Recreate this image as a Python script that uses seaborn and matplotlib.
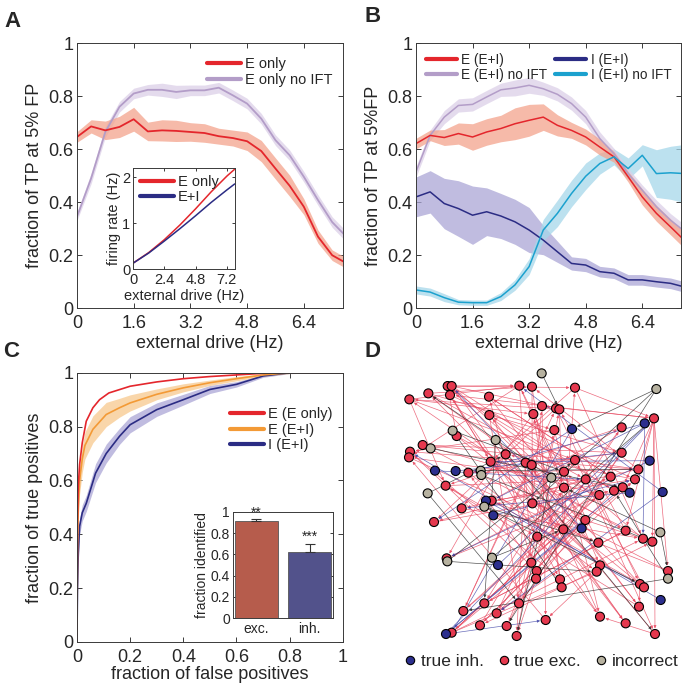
import numpy as np
import pandas as pd
import matplotlib
matplotlib.use("Agg")
import matplotlib.pyplot as plt
from matplotlib.lines import Line2D
import seaborn as sns

# ---------------- data: panels A & B (detection vs external drive) ----------------
drive = [0.0, 0.4, 0.8, 1.2, 1.6, 2.0, 2.4, 2.8, 3.2, 3.6,
         4.0, 4.4, 4.8, 5.2, 5.6, 6.0, 6.4, 6.8, 7.2, 7.6]
drive_ticks = [0, 1.6, 3.2, 4.8, 6.4]
drive_ticklabels = ["0", "1.6", "3.2", "4.8", "6.4"]

a_e_only = [0.646, 0.686, 0.671, 0.684, 0.713, 0.667, 0.671, 0.669, 0.665, 0.661,
            0.649, 0.642, 0.630, 0.593, 0.527, 0.462, 0.383, 0.270, 0.200, 0.170]
a_e_only_sd = [0.02, 0.025, 0.035, 0.04, 0.045, 0.035, 0.04, 0.04, 0.035, 0.035,
               0.03, 0.03, 0.035, 0.04, 0.04, 0.04, 0.03, 0.025, 0.02, 0.02]
a_e_noift = [0.345, 0.490, 0.665, 0.760, 0.810, 0.824, 0.824, 0.816, 0.822, 0.822,
             0.832, 0.803, 0.772, 0.715, 0.634, 0.577, 0.496, 0.408, 0.325, 0.270]
a_e_noift_sd = [0.015, 0.02, 0.02, 0.02, 0.02, 0.02, 0.025, 0.025, 0.02, 0.02,
                0.02, 0.02, 0.02, 0.02, 0.02, 0.02, 0.02, 0.02, 0.02, 0.02]

inset_drive = [0, 1.2, 2.4, 3.6, 4.8, 6.0, 7.2, 7.8]
rate_e_only = [0.13, 0.36, 0.64, 0.96, 1.31, 1.68, 2.02, 2.17]
rate_e_i = [0.13, 0.35, 0.61, 0.88, 1.16, 1.45, 1.72, 1.85]

b_e = [0.621, 0.652, 0.644, 0.659, 0.646, 0.665, 0.678, 0.696, 0.709, 0.721,
       0.690, 0.671, 0.646, 0.608, 0.571, 0.496, 0.420, 0.358, 0.307, 0.255]
b_e_sd = [0.02, 0.02, 0.03, 0.04, 0.05, 0.05, 0.05, 0.06, 0.06, 0.05,
          0.04, 0.03, 0.03, 0.03, 0.02, 0.02, 0.03, 0.03, 0.03, 0.03]
b_e_noift = [0.514, 0.652, 0.721, 0.765, 0.769, 0.797, 0.824, 0.831, 0.841, 0.828,
             0.807, 0.772, 0.721, 0.640, 0.583, 0.508, 0.445, 0.383, 0.332, 0.290]
b_e_noift_sd = [0.02, 0.02, 0.025, 0.025, 0.025, 0.025, 0.025, 0.03, 0.03, 0.025,
                0.025, 0.025, 0.025, 0.025, 0.02, 0.02, 0.02, 0.025, 0.025, 0.025]
b_i = [0.420, 0.439, 0.395, 0.376, 0.351, 0.364, 0.348, 0.326, 0.295, 0.257,
       0.213, 0.169, 0.163, 0.138, 0.132, 0.107, 0.107, 0.100, 0.094, 0.080]
b_i_sd = [0.075, 0.08, 0.095, 0.105, 0.11, 0.09, 0.085, 0.085, 0.085, 0.055,
          0.04, 0.025, 0.025, 0.02, 0.02, 0.02, 0.02, 0.02, 0.02, 0.02]
b_i_noift = [0.069, 0.061, 0.040, 0.023, 0.021, 0.021, 0.044, 0.088, 0.157, 0.295,
             0.358, 0.433, 0.498, 0.546, 0.571, 0.527, 0.577, 0.508, 0.511, 0.508]
b_i_noift_sd = [0.015, 0.015, 0.015, 0.01, 0.01, 0.01, 0.015, 0.02, 0.03, 0.04,
                0.05, 0.05, 0.05, 0.04, 0.03, 0.04, 0.04, 0.09, 0.10, 0.11]

# ---------------- data: panel C (ROC curves) ----------------
fpr_e_only = [0, 0.002, 0.005, 0.01, 0.02, 0.035, 0.06, 0.085, 0.12, 0.2, 0.3, 0.4, 0.5, 0.6, 0.7, 0.8, 1.0]
tpr_e_only = [0, 0.45, 0.58, 0.66, 0.74, 0.82, 0.87, 0.90, 0.925, 0.95, 0.966, 0.978, 0.986, 0.992, 0.998, 1.0, 1.0]
fpr_e_ei = [0, 0.002, 0.005, 0.01, 0.02, 0.03, 0.06, 0.11, 0.16, 0.2, 0.3, 0.4, 0.5, 0.6, 0.7, 0.8, 1.0]
tpr_e_ei = [0, 0.35, 0.50, 0.60, 0.68, 0.73, 0.79, 0.845, 0.87, 0.888, 0.92, 0.944, 0.963, 0.978, 0.992, 1.0, 1.0]
tpr_e_ei_sd = [0, 0.03, 0.04, 0.05, 0.05, 0.05, 0.05, 0.045, 0.035, 0.03, 0.02, 0.015, 0.01, 0.008, 0.005, 0.003, 0]
fpr_i_ei = [0, 0.002, 0.005, 0.01, 0.02, 0.035, 0.07, 0.11, 0.16, 0.2, 0.3, 0.4, 0.5, 0.6, 0.7, 0.8, 1.0]
tpr_i_ei = [0, 0.20, 0.33, 0.43, 0.48, 0.515, 0.627, 0.70, 0.764, 0.807, 0.863, 0.90, 0.938, 0.957, 0.988, 1.0, 1.0]
tpr_i_ei_sd = [0, 0.02, 0.03, 0.03, 0.03, 0.03, 0.035, 0.035, 0.03, 0.03, 0.025, 0.02, 0.015, 0.01, 0.005, 0.003, 0]

cell_type = ["exc.", "inh."]
frac_identified = [0.91, 0.62]
frac_err = [0.02, 0.08]
frac_stars = ["**", "***"]

# ---------------- data: panel D (inferred network) ----------------
exc_xy = [(208, 178), (265, 160), (323, 138), (335, 138), (330, 165), (538, 137), (576, 140),
          (705, 143), (447, 170), (448, 225), (580, 222), (606, 198), (648, 205), (658, 208),
          (643, 270), (350, 288), (248, 315), (210, 335), (207, 352), (497, 343), (452, 365),
          (557, 368), (575, 375), (705, 360), (845, 338), (845, 262), (942, 235), (385, 398),
          (672, 395), (317, 437), (672, 443), (737, 418), (812, 410), (885, 418), (895, 388),
          (848, 442), (822, 452), (778, 465), (455, 482), (365, 505), (577, 490), (736, 540),
          (282, 546), (670, 568), (592, 590), (857, 572), (909, 596), (937, 605), (775, 608),
          (320, 655), (574, 668), (590, 693), (588, 716), (660, 718), (665, 742), (780, 676),
          (770, 695), (900, 732), (912, 742), (984, 693), (370, 813), (433, 790), (537, 790),
          (470, 820), (617, 840), (780, 830), (857, 850), (897, 800), (420, 856), (500, 858),
          (335, 878), (530, 888), (945, 882)]
inh_xy = [(696, 267), (914, 250), (929, 362), (285, 392), (347, 393), (438, 482), (460, 526),
          (869, 458), (968, 456), (725, 565), (474, 675), (962, 780), (318, 882)]
inc_xy = [(605, 100), (949, 147), (338, 272), (272, 325), (467, 300), (422, 392), (424, 405),
          (634, 413), (263, 460), (433, 500), (456, 653), (322, 664), (961, 577), (984, 716)]

edges = [
    ("E0", "E5"), ("E0", "E23"), ("E0", "E29"), ("E0", "E10"), ("E1", "E6"), ("E1", "E14"),
    ("E1", "E31"), ("E2", "E7"), ("E2", "E22"), ("E2", "E15"), ("E3", "E5"), ("E3", "E12"),
    ("E3", "E36"), ("E4", "E20"), ("E4", "E44"), ("E4", "E33"), ("E5", "E30"), ("E5", "E50"),
    ("E5", "E18"), ("E6", "E40"), ("E6", "E54"), ("E7", "E26"), ("E7", "E46"), ("E7", "E20"),
    ("E8", "E41"), ("E8", "E32"), ("E9", "E24"), ("E9", "E62"), ("E10", "E55"), ("E10", "E39"),
    ("E11", "E26"), ("E11", "E64"), ("E12", "E42"), ("E12", "E57"), ("E13", "E0"), ("E13", "E43"),
    ("E14", "E65"), ("E14", "E17"), ("E15", "E45"), ("E15", "E58"), ("E16", "E24"), ("E16", "E37"),
    ("E17", "E34"), ("E17", "E53"), ("E18", "E48"), ("E18", "E35"), ("E19", "E66"), ("E19", "E49"),
    ("E20", "E47"), ("E21", "E71"), ("E21", "E1"), ("E22", "E67"), ("E22", "E60"), ("E23", "E61"),
    ("E23", "E16"), ("E24", "E27"), ("E24", "E52"), ("E25", "E29"), ("E25", "E44"), ("E26", "E4"),
    ("E26", "E35"), ("E26", "E45"), ("E26", "E47"), ("E26", "E59"), ("E26", "E33"), ("E26", "E72"),
    ("E27", "E34"), ("E27", "E56"), ("E28", "E63"), ("E28", "E2"), ("E29", "E31"), ("E29", "E44"),
    ("E30", "E69"), ("E30", "E3"), ("E31", "E42"), ("E31", "E72"), ("E32", "E60"), ("E32", "E8"),
    ("E33", "E38"), ("E33", "E19"), ("E34", "E39"), ("E34", "E6"), ("E35", "E49"), ("E36", "E68"),
    ("E36", "E9"), ("E37", "E21"), ("E38", "E57"), ("E38", "E25"), ("E39", "E46"), ("E40", "E66"),
    ("E40", "E11"), ("E41", "E62"), ("E41", "E0"), ("E42", "E36"), ("E43", "E70"), ("E43", "E7"),
    ("E44", "E65"), ("E45", "E61"), ("E45", "E13"), ("E46", "E28"), ("E47", "E40"), ("E48", "E63"),
    ("E48", "E5"), ("E49", "E32"), ("E50", "E27"), ("E50", "E8"), ("E51", "E24"), ("E51", "E17"),
    ("E52", "E71"), ("E53", "E10"), ("E54", "E68"), ("E55", "E20"), ("E55", "E1"), ("E56", "E64"),
    ("E57", "E21"), ("E58", "E23"), ("E59", "E16"), ("E59", "E38"), ("E60", "E37"), ("E60", "E12"),
    ("E61", "E45"), ("E62", "E14"), ("E63", "E25"), ("E63", "E33"), ("E64", "E18"), ("E65", "E22"),
    ("E65", "E4"), ("E66", "E3"), ("E67", "E9"), ("E67", "E29"), ("E68", "E41"), ("E68", "E30"),
    ("E69", "E31"), ("E70", "E43"), ("E70", "E46"), ("E70", "E33"), ("E70", "E37"), ("E70", "E56"),
    ("E71", "E13"), ("E72", "E19"), ("E72", "E65"), ("E57", "E67"), ("E54", "E47"), ("E52", "E50"),
    ("E44", "E53"), ("E40", "E22"), ("E23", "E34"),
    ("I0", "E42"), ("I0", "E70"), ("I1", "E38"), ("I1", "E46"), ("I1", "E27"), ("I2", "E49"),
    ("I2", "E20"), ("I3", "E31"), ("I4", "E24"), ("I5", "E58"), ("I6", "E33"), ("I7", "E39"),
    ("I8", "E5"), ("I8", "E63"), ("I9", "E3"), ("I10", "E26"), ("I11", "E17"), ("I12", "E26"),
    ("I12", "E41"), ("I12", "E35"), ("I12", "E64"),
    ("G0", "E13"), ("G1", "I0"), ("G1", "E40"), ("G2", "E28"), ("G3", "E35"), ("G4", "E61"),
    ("G5", "E34"), ("G6", "E47"), ("G7", "E71"), ("G8", "E19"), ("G9", "E57"), ("G10", "E43"),
    ("G11", "E23"), ("G12", "E59"), ("G13", "E36"), ("G2", "E54"), ("G4", "E72"), ("G8", "E62"),
    ("G11", "E56"), ("G12", "E30"), ("G1", "E69"), ("G7", "E1"), ("G9", "E48"), ("G10", "E26"),
    ("G13", "E60"),
]

# ---------------- colours ----------------
RED = "#E4262C"
RED_BAND = "#F4A38C"
LAV = "#B39DC8"
LAV_BAND = "#DCD0E8"
NAVY = "#2B2C84"
NAVY_BAND = "#ABA6D6"
CYAN = "#1BA1CE"
CYAN_BAND = "#A6D7EA"
ORANGE = "#F39A36"
ORANGE_BAND = "#F8C98E"
AXC = "#3A3A3A"

sns.set_style("ticks")
plt.rcParams["font.family"] = ["Liberation Sans", "DejaVu Sans"]
plt.rcParams["xtick.direction"] = "in"
plt.rcParams["ytick.direction"] = "in"
plt.rcParams["xtick.top"] = True
plt.rcParams["ytick.right"] = True


def style_axes(ax, size=13, length=3.5, xpad=5, ypad=2.5):
    for s in ax.spines.values():
        s.set_visible(True)
        s.set_linewidth(0.7)
        s.set_color(AXC)
    ax.tick_params(labelsize=size, length=length, width=0.7, color=AXC,
                   top=True, right=True, direction="in")
    ax.tick_params(axis="x", pad=xpad)
    ax.tick_params(axis="y", pad=ypad)


def band(ax, x, y, sd, color):
    y = np.array(y)
    sd = np.array(sd)
    ax.fill_between(x, y - sd, y + sd, color=color, alpha=0.75, lw=0)


fig = plt.figure(figsize=(6.87, 6.85), dpi=100)

# ---------------- panel A ----------------
axA = fig.add_axes([0.112, 0.550, 0.387, 0.387])
band(axA, drive, a_e_noift, a_e_noift_sd, LAV_BAND)
band(axA, drive, a_e_only, a_e_only_sd, RED_BAND)
sns.lineplot(x=drive, y=a_e_noift, ax=axA, color=LAV, lw=1.3)
sns.lineplot(x=drive, y=a_e_only, ax=axA, color=RED, lw=1.3)
axA.set_xlim(0, 7.5)
axA.set_ylim(0, 1)
axA.set_xticks(drive_ticks)
axA.set_xticklabels(drive_ticklabels)
axA.set_yticks([0, 0.2, 0.4, 0.6, 0.8, 1])
axA.set_yticklabels(["0", "0.2", "0.4", "0.6", "0.8", "1"])
axA.set_xlabel("external drive (Hz)", fontsize=13, labelpad=2)
axA.set_ylabel("fraction of TP at 5% FP", fontsize=13, labelpad=4)
style_axes(axA)
axA.legend(handles=[Line2D([], [], color=RED, lw=3, label="E only"),
                    Line2D([], [], color=LAV, lw=3, label="E only no IFT")],
           loc="upper right", bbox_to_anchor=(1.0, 0.985), frameon=False,
           fontsize=10.5, handlelength=2.3, handletextpad=0.3, labelspacing=0.1,
           borderaxespad=0.3)

insA = fig.add_axes([0.1936, 0.607, 0.148, 0.148])
sns.lineplot(x=inset_drive, y=rate_e_only, ax=insA, color=RED, lw=1.1)
sns.lineplot(x=inset_drive, y=rate_e_i, ax=insA, color=NAVY, lw=1.1)
insA.set_xlim(0, 7.8)
insA.set_ylim(0, 2.2)
insA.set_xticks([0, 2.4, 4.8, 7.2])
insA.set_xticklabels(["0", "2.4", "4.8", "7.2"])
insA.set_yticks([0, 1, 2])
insA.set_xlabel("external drive (Hz)", fontsize=10.5, labelpad=1)
insA.set_ylabel("firing rate (Hz)", fontsize=10.5, labelpad=1)
style_axes(insA, size=10.5, length=2.5, xpad=3, ypad=2)
insA.legend(handles=[Line2D([], [], color=RED, lw=3, label="E only"),
                     Line2D([], [], color=NAVY, lw=3, label="E+I")],
            loc="upper left", frameon=False, fontsize=10.5, handlelength=2.3,
            handletextpad=0.3, labelspacing=0.05, borderaxespad=0.1)

# ---------------- panel B ----------------
axB = fig.add_axes([0.6055, 0.550, 0.386, 0.387])
band(axB, drive, b_i, b_i_sd, NAVY_BAND)
band(axB, drive, b_i_noift, b_i_noift_sd, CYAN_BAND)
band(axB, drive, b_e_noift, b_e_noift_sd, LAV_BAND)
band(axB, drive, b_e, b_e_sd, RED_BAND)
sns.lineplot(x=drive, y=b_e_noift, ax=axB, color=LAV, lw=1.1)
sns.lineplot(x=drive, y=b_e, ax=axB, color=RED, lw=1.1)
sns.lineplot(x=drive, y=b_i, ax=axB, color=NAVY, lw=1.1)
sns.lineplot(x=drive, y=b_i_noift, ax=axB, color=CYAN, lw=1.1)
axB.set_xlim(0, 7.5)
axB.set_ylim(0, 1)
axB.set_xticks(drive_ticks)
axB.set_xticklabels(drive_ticklabels)
axB.set_yticks([0, 0.2, 0.4, 0.6, 0.8, 1])
axB.set_yticklabels(["0", "0.2", "0.4", "0.6", "0.8", "1"])
axB.set_xlabel("external drive (Hz)", fontsize=13, labelpad=2)
axB.set_ylabel("fraction of TP at 5%FP", fontsize=13, labelpad=4)
style_axes(axB)
axB.legend(handles=[Line2D([], [], color=RED, lw=3, label="E (E+I)"),
                    Line2D([], [], color=LAV, lw=3, label="E (E+I) no IFT"),
                    Line2D([], [], color=NAVY, lw=3, label="I (E+I)"),
                    Line2D([], [], color=CYAN, lw=3, label="I (E+I) no IFT")],
           ncol=2, loc="upper left", bbox_to_anchor=(0.0, 1.0), frameon=False,
           fontsize=9.8, handlelength=2.3, handletextpad=0.3, labelspacing=0.1,
           columnspacing=0.6, borderaxespad=0.3)

# ---------------- panel C ----------------
axC = fig.add_axes([0.112, 0.0628, 0.387, 0.393])
band(axC, fpr_i_ei, tpr_i_ei, tpr_i_ei_sd, NAVY_BAND)
band(axC, fpr_e_ei, tpr_e_ei, tpr_e_ei_sd, ORANGE_BAND)
sns.lineplot(x=fpr_i_ei, y=tpr_i_ei, ax=axC, color=NAVY, lw=1.2)
sns.lineplot(x=fpr_e_ei, y=tpr_e_ei, ax=axC, color=ORANGE, lw=1.2)
sns.lineplot(x=fpr_e_only, y=tpr_e_only, ax=axC, color=RED, lw=1.2)
axC.set_xlim(0, 1)
axC.set_ylim(0, 1)
axC.set_xticks([0, 0.2, 0.4, 0.6, 0.8, 1])
axC.set_xticklabels(["0", "0.2", "0.4", "0.6", "0.8", "1"])
axC.set_yticks([0, 0.2, 0.4, 0.6, 0.8, 1])
axC.set_yticklabels(["0", "0.2", "0.4", "0.6", "0.8", "1"])
axC.set_xlabel("fraction of false positives", fontsize=13, labelpad=0)
axC.set_ylabel("fraction of true positives", fontsize=13, labelpad=4)
style_axes(axC)
axC.legend(handles=[Line2D([], [], color=RED, lw=3, label="E (E only)"),
                    Line2D([], [], color=ORANGE, lw=3, label="E (E+I)"),
                    Line2D([], [], color=NAVY, lw=3, label="I (E+I)")],
           loc="upper right", bbox_to_anchor=(1.0, 0.91), frameon=False,
           fontsize=10.5, handlelength=2.3, handletextpad=0.3, labelspacing=0.1,
           borderaxespad=0.3)

insC = fig.add_axes([0.339, 0.0978, 0.146, 0.155])
sns.barplot(x=cell_type, y=frac_identified, hue=cell_type,
            palette=["#C8503A", "#494894"], ax=insC, width=0.81,
            edgecolor="#555555", linewidth=0.6, legend=False)
insC.errorbar(x=[0, 1], y=frac_identified, yerr=[[0, 0], frac_err], fmt="none",
              ecolor="#333333", elinewidth=0.8, capsize=3.5, capthick=0.8)
for i, st in enumerate(frac_stars):
    insC.text(i, frac_identified[i] + frac_err[i] - 0.005, st, ha="center",
              va="bottom", fontsize=10)
insC.set_xlim(-0.44, 1.44)
insC.set_ylim(0, 1)
insC.set_yticks([0, 0.2, 0.4, 0.6, 0.8, 1])
insC.set_yticklabels(["0", "0.2", "0.4", "0.6", "0.8", "1"])
insC.set_ylabel("fraction identified", fontsize=10, labelpad=1)
style_axes(insC, size=10, length=2.5, xpad=3, ypad=2)
insC.tick_params(axis="x", length=0)

# ---------------- panel D ----------------
axD = fig.add_axes([0.4949, 0.0, 0.5051, 0.5036])
nodes = pd.DataFrame(
    [(f"E{i}", x, y, "true exc.") for i, (x, y) in enumerate(exc_xy)]
    + [(f"I{i}", x, y, "true inh.") for i, (x, y) in enumerate(inh_xy)]
    + [(f"G{i}", x, y, "incorrect") for i, (x, y) in enumerate(inc_xy)],
    columns=["name", "x", "y", "kind"]).set_index("name")
node_colors = {"true inh.": "#2C2F8E", "true exc.": "#E5384E", "incorrect": "#B7B2A0"}
edge_colors = {"E": "#E8475F", "I": "#4347A8", "G": "#2A2A2A"}
for src, dst in edges:
    x0, y0 = nodes.loc[src, ["x", "y"]]
    x1, y1 = nodes.loc[dst, ["x", "y"]]
    axD.annotate("", xy=(x1, y1), xytext=(x0, y0),
                 arrowprops=dict(arrowstyle="-|>", color=edge_colors[src[0]],
                                 lw=0.5, alpha=0.8, mutation_scale=4,
                                 shrinkA=3, shrinkB=4))
sns.scatterplot(data=nodes, x="x", y="y", hue="kind", palette=node_colors,
                s=42, edgecolor="black", linewidth=0.8, ax=axD, legend=False,
                zorder=3)
axD.set_xlim(0, 1041)
axD.set_ylim(1035, 0)
axD.axis("off")
axD.legend(handles=[Line2D([], [], marker="o", ls="", markersize=6,
                           markerfacecolor=node_colors[k], markeredgecolor="black",
                           markeredgewidth=0.8, label=k)
                    for k in ["true inh.", "true exc.", "incorrect"]],
           ncol=3, loc="center", bbox_to_anchor=(0.58, 0.068), frameon=False,
           fontsize=12.5, handlelength=0.7, handletextpad=0.25, columnspacing=0.8,
           borderpad=0.1)

# ---------------- panel letters ----------------
for lab, px, py in [("A", 4, 11), ("B", 365, 6), ("C", 3, 341), ("D", 365, 341)]:
    fig.text(px / 687, 1 - py / 685, lab, fontsize=16, fontweight="bold",
             ha="left", va="top")

fig.savefig("out.png", dpi=100)
